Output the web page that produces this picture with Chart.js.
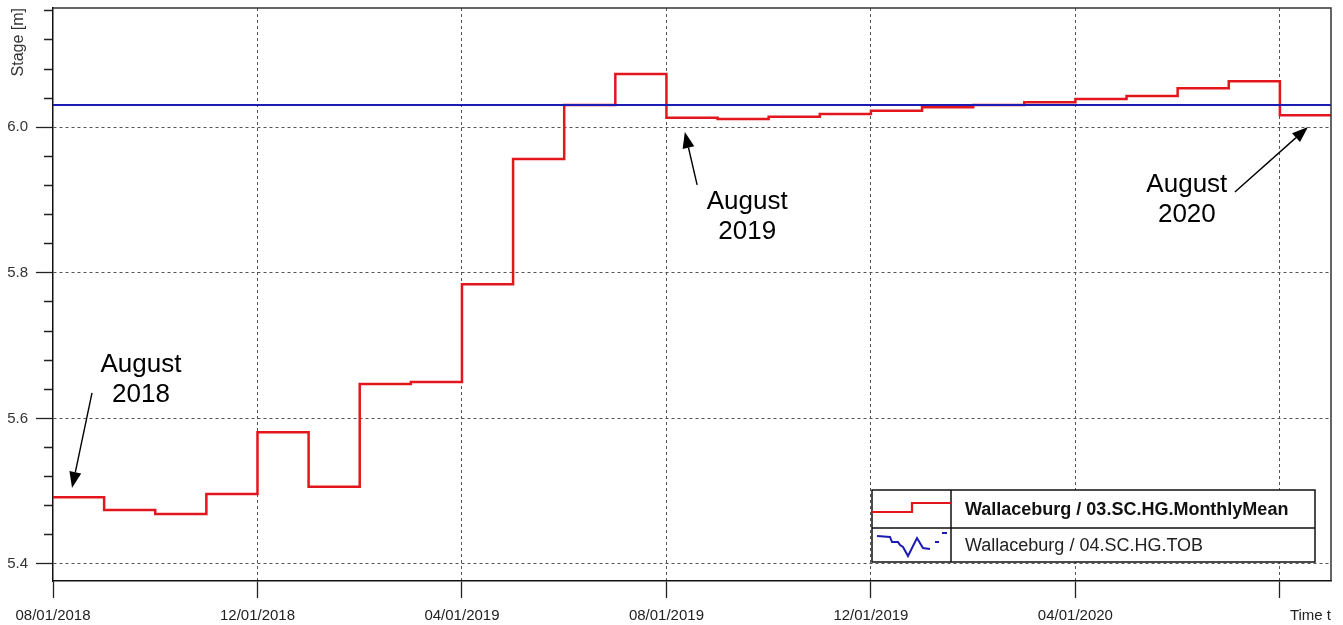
<!DOCTYPE html>
<html>
<head>
<meta charset="utf-8">
<title>Wallaceburg stage</title>
<script src="https://cdn.jsdelivr.net/npm/chart.js@4.4.1/dist/chart.umd.min.js"></script>
<style>
  html, body { margin: 0; padding: 0; background: #fff; }
  #wrap { width: 1343px; height: 625px; }
</style>
</head>
<body>
<div id="wrap"><canvas id="stageChart" width="1343" height="625"></canvas></div>
<script>
// Monthly mean stage, Aug 2018 .. Aug 2020
const months = ['2018-08', '2018-09', '2018-10', '2018-11', '2018-12', '2019-01', '2019-02', '2019-03',
    '2019-04', '2019-05', '2019-06', '2019-07', '2019-08', '2019-09', '2019-10', '2019-11', '2019-12',
    '2020-01', '2020-02', '2020-03', '2020-04', '2020-05', '2020-06', '2020-07', '2020-08'];
const monthlyMean = [5.4917, 5.474, 5.4687, 5.4962, 5.581, 5.5062, 5.6473, 5.650,
    5.7843, 5.9565, 6.0306, 6.0732, 6.0132, 6.0114, 6.0146, 6.0183, 6.0228,
    6.0275, 6.0306, 6.0344, 6.0389, 6.043, 6.0536, 6.0632, 6.0165];

// TOB reference level (flat)
const tobLevel = 6.0306;

const seriesNames = ['Wallaceburg / 03.SC.HG.MonthlyMean', 'Wallaceburg / 04.SC.HG.TOB'];

// x axis: month index since Aug 2018
const xTickMonths = [0, 4, 8, 12, 16, 20, 24];
const xTickLabels = ['08/01/2018', '12/01/2018', '04/01/2019', '08/01/2019', '12/01/2019', '04/01/2020', ''];
const yMajorTicks = [5.4, 5.6, 5.8, 6.0];

// text callouts, positions in data units (month, stage)
const callouts = [
    { lines: ['August', '2018'], at: [1.72, 5.6638], gap: 30, tail: [0.763, 5.635], tip: [0.372, 5.5044] },
    { lines: ['August', '2019'], at: [13.58, 5.8878], gap: 30, tail: [12.60, 5.9208], tip: [12.36, 5.9936] },
    { lines: ['August', '2020'], at: [22.18, 5.911], gap: 30, tail: [23.12, 5.9111], tip: [24.55, 6.0004] }
];

const RED = '#e2161c';
const BLUE = '#1c1cb4';
const FONT = '"Liberation Sans", Arial, sans-serif';

const isMajor = v => yMajorTicks.some(t => Math.abs(t - v) < 1e-6);

// step points: value holds for the whole month, close off the last month
const meanPoints = monthlyMean.map((v, i) => ({ x: i, y: v }));
meanPoints.push({ x: months.length, y: monthlyMean[monthlyMean.length - 1] });
const tobPoints = [{ x: 0, y: tobLevel }, { x: months.length, y: tobLevel }];

const framePlugin = {
    id: 'frame',
    afterDraw(chart) {
        const { ctx, chartArea: a } = chart;
        ctx.save();
        ctx.strokeStyle = '#333';
        ctx.lineWidth = 1.5;
        ctx.beginPath();
        ctx.moveTo(a.left, a.top);
        ctx.lineTo(a.right, a.top);
        ctx.lineTo(a.right, a.bottom);
        ctx.stroke();
        ctx.restore();
    }
};

const calloutPlugin = {
    id: 'callouts',
    afterDatasetsDraw(chart) {
        const { ctx } = chart;
        const xs = chart.scales.x, ys = chart.scales.y;
        ctx.save();
        ctx.fillStyle = '#000';
        ctx.strokeStyle = '#000';
        ctx.font = '26px ' + FONT;
        ctx.textAlign = 'center';
        ctx.textBaseline = 'alphabetic';
        callouts.forEach(c => {
            const cx = xs.getPixelForValue(c.at[0]);
            const cy = ys.getPixelForValue(c.at[1]);
            c.lines.forEach((t, i) => ctx.fillText(t, cx, cy + i * c.gap));

            const x1 = xs.getPixelForValue(c.tail[0]), y1 = ys.getPixelForValue(c.tail[1]);
            const x2 = xs.getPixelForValue(c.tip[0]), y2 = ys.getPixelForValue(c.tip[1]);
            const ang = Math.atan2(y2 - y1, x2 - x1);
            const len = 16, half = 6;
            const bx = x2 - len * Math.cos(ang), by = y2 - len * Math.sin(ang);
            ctx.lineWidth = 1.4;
            ctx.beginPath();
            ctx.moveTo(x1, y1);
            ctx.lineTo(bx, by);
            ctx.stroke();
            ctx.beginPath();
            ctx.moveTo(x2, y2);
            ctx.lineTo(bx + half * Math.sin(ang), by - half * Math.cos(ang));
            ctx.lineTo(bx - half * Math.sin(ang), by + half * Math.cos(ang));
            ctx.closePath();
            ctx.fill();
        });
        ctx.restore();
    }
};

// boxed legend in the lower right corner
const legendPlugin = {
    id: 'boxLegend',
    afterDraw(chart) {
        const { ctx, chartArea: a } = chart;
        const right = a.right - 16, bottom = a.bottom - 19;
        const left = right - 443, top = bottom - 72;
        const mid = top + 38, col = left + 79;
        ctx.save();
        ctx.fillStyle = '#fff';
        ctx.fillRect(left, top, right - left, bottom - top);
        ctx.strokeStyle = '#111';
        ctx.lineWidth = 1.5;
        ctx.strokeRect(left, top, right - left, bottom - top);
        ctx.beginPath();
        ctx.moveTo(left, mid); ctx.lineTo(right, mid);
        ctx.moveTo(col, top); ctx.lineTo(col, bottom);
        ctx.stroke();

        // red step glyph
        ctx.strokeStyle = RED;
        ctx.lineWidth = 2.2;
        ctx.beginPath();
        ctx.moveTo(left, top + 22);
        ctx.lineTo(left + 40, top + 22);
        ctx.lineTo(left + 40, top + 13);
        ctx.lineTo(col, top + 13);
        ctx.stroke();

        // blue squiggle glyph
        ctx.strokeStyle = BLUE;
        ctx.lineWidth = 2;
        const sq = [[5, 46], [18, 47], [20, 52], [26, 52], [28, 55], [31, 57], [36, 66], [45, 48], [51, 58], [58, 59]];
        ctx.beginPath();
        sq.forEach((p, i) => i ? ctx.lineTo(left + p[0], top + p[1]) : ctx.moveTo(left + p[0], top + p[1]));
        ctx.stroke();
        ctx.beginPath();
        ctx.moveTo(left + 63, top + 52); ctx.lineTo(left + 67, top + 52);
        ctx.moveTo(left + 70, top + 43); ctx.lineTo(left + 75, top + 43);
        ctx.stroke();

        ctx.textAlign = 'left';
        ctx.textBaseline = 'middle';
        ctx.fillStyle = '#111';
        ctx.font = 'bold 18px ' + FONT;
        ctx.fillText(seriesNames[0], col + 14, top + 20);
        ctx.fillStyle = '#222';
        ctx.font = '18px ' + FONT;
        ctx.fillText(seriesNames[1], col + 14, mid + 18);
        ctx.restore();
    }
};

new Chart(document.getElementById('stageChart'), {
    type: 'line',
    data: {
        datasets: [
            {
                label: seriesNames[1],
                data: tobPoints,
                borderColor: BLUE,
                borderWidth: 2.2,
                pointRadius: 0,
                order: 0
            },
            {
                label: seriesNames[0],
                data: meanPoints,
                borderColor: RED,
                borderWidth: 2.5,
                stepped: 'before',
                pointRadius: 0,
                order: 1
            }
        ]
    },
    options: {
        responsive: false,
        animation: false,
        layout: { padding: { top: 8, right: 12, left: 0, bottom: 0 } },
        plugins: {
            legend: { display: false },
            tooltip: { enabled: false }
        },
        scales: {
            x: {
                type: 'linear',
                min: 0,
                max: months.length,
                afterBuildTicks: axis => { axis.ticks = xTickMonths.map(v => ({ value: v })); },
                afterFit: axis => { axis.height = 44; axis.paddingLeft = 0; axis.paddingRight = 0; },
                ticks: {
                    autoSkip: false,
                    maxRotation: 0,
                    padding: 9,
                    color: '#222',
                    font: { family: FONT, size: 15 },
                    callback: v => xTickLabels[xTickMonths.indexOf(v)]
                },
                grid: {
                    color: c => (c.tick && c.tick.value === 0) ? 'rgba(0,0,0,0)' : '#555',
                    lineWidth: 1,
                    tickLength: 17,
                    tickColor: '#222',
                    tickWidth: 1.3
                },
                border: { display: true, color: '#111', width: 1.5, dash: [3, 3] },
                title: {
                    display: true,
                    text: 'Time t',
                    align: 'end',
                    color: '#222',
                    font: { family: FONT, size: 15 },
                    padding: 0
                }
            },
            y: {
                type: 'linear',
                min: 5.3766,
                max: 6.1639,
                afterFit: axis => { axis.width = 53; axis.paddingTop = 0; axis.paddingBottom = 0; },
                ticks: {
                    stepSize: 0.04,
                    includeBounds: false,
                    padding: 8,
                    color: '#333',
                    font: { family: FONT, size: 15 },
                    callback: v => isMajor(v) ? v.toFixed(1) : ''
                },
                grid: {
                    color: c => (c.tick && isMajor(c.tick.value)) ? '#555' : 'rgba(0,0,0,0)',
                    lineWidth: 1,
                    tickLength: 17,
                    tickColor: '#222',
                    tickWidth: 1.3,
                    tickBorderDash: c => (c.tick && isMajor(c.tick.value)) ? [] : [0, 8, 9, 100]
                },
                border: { display: true, color: '#111', width: 1.5, dash: [3, 3] },
                title: {
                    display: true,
                    text: 'Stage [m]',
                    align: 'end',
                    color: '#333',
                    font: { family: FONT, size: 16 },
                    padding: { top: 9, bottom: 0 }
                }
            }
        }
    },
    plugins: [framePlugin, calloutPlugin, legendPlugin]
});
</script>
</body>
</html>
